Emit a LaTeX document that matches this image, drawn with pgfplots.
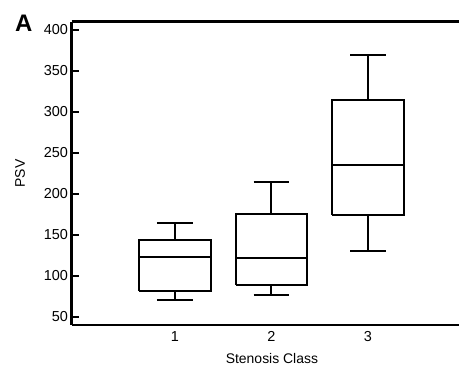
\documentclass[border=0pt]{standalone}
\usepackage{fontspec}
\setmainfont{Liberation Sans}
\usepackage{pgfplots}
\pgfplotsset{compat=1.18}
\begin{document}
\begin{tikzpicture}[bx/.style={black, solid, line width=2bp, mark=none}]
\begin{axis}[
  at={(71.5bp,-325bp)}, anchor=south west,
  scale only axis, width=393bp, height=303.3bp,
  xmin=-0.07, xmax=4.0, ymin=40.2, ymax=410,
  axis x line=box, axis y line=left,
  axis line style={-, line width=2.4bp, black},
  tick align=inside,
  major tick length=8bp,
  tick style={line width=2bp, black},
  xtick={1,2,3},
  x tick style={draw=none},
  ytick={50,100,...,400},
  tick label style={font=\fontsize{14.5}{16}\selectfont},
  xticklabel style={yshift=-3bp},
  /pgf/number format/assume math mode=true,
  ylabel={PSV},
  xlabel={Stenosis Class},
  label style={font=\fontsize{14}{16}\selectfont},
  ylabel style={at={(axis description cs:-0.131,0.5)}, anchor=center},
  xlabel style={at={(axis description cs:0.51,-0.11)}, anchor=center},
]
% Class 1: whiskers 70.7/164.2, box 81.6-144.4, median 122.9
\addplot[bx] coordinates {(0.63,81.6) (1.37,81.6) (1.37,144.4) (0.63,144.4) (0.63,81.6)};
\addplot[bx] coordinates {(0.63,122.9) (1.37,122.9)};
\addplot[bx] coordinates {(1,144.4) (1,164.2)};
\addplot[bx] coordinates {(1,81.6) (1,70.7)};
\addplot[bx] coordinates {(0.815,164.2) (1.185,164.2)};
\addplot[bx] coordinates {(0.815,70.7) (1.185,70.7)};
% Class 2: whiskers 76.7/214, box 88.9-175.5, median 121.3
\addplot[bx] coordinates {(1.63,88.9) (2.37,88.9) (2.37,175.5) (1.63,175.5) (1.63,88.9)};
\addplot[bx] coordinates {(1.63,121.3) (2.37,121.3)};
\addplot[bx] coordinates {(2,175.5) (2,214)};
\addplot[bx] coordinates {(2,88.9) (2,76.7)};
\addplot[bx] coordinates {(1.815,214) (2.185,214)};
\addplot[bx] coordinates {(1.815,76.7) (2.185,76.7)};
% Class 3: whiskers 130/370, box 174.8-314, median 235.5
\addplot[bx] coordinates {(2.63,174.8) (3.37,174.8) (3.37,314) (2.63,314) (2.63,174.8)};
\addplot[bx] coordinates {(2.63,235.5) (3.37,235.5)};
\addplot[bx] coordinates {(3,314) (3,370)};
\addplot[bx] coordinates {(3,174.8) (3,130)};
\addplot[bx] coordinates {(2.815,370) (3.185,370)};
\addplot[bx] coordinates {(2.815,130) (3.185,130)};
\end{axis}
\node[anchor=north west, font=\bfseries\fontsize{24}{24}\selectfont, inner sep=0pt] at (15bp,-15bp) {A};
\pgfresetboundingbox
\useasboundingbox (0,0) rectangle (459bp,-366bp);
\end{tikzpicture}
\end{document}
